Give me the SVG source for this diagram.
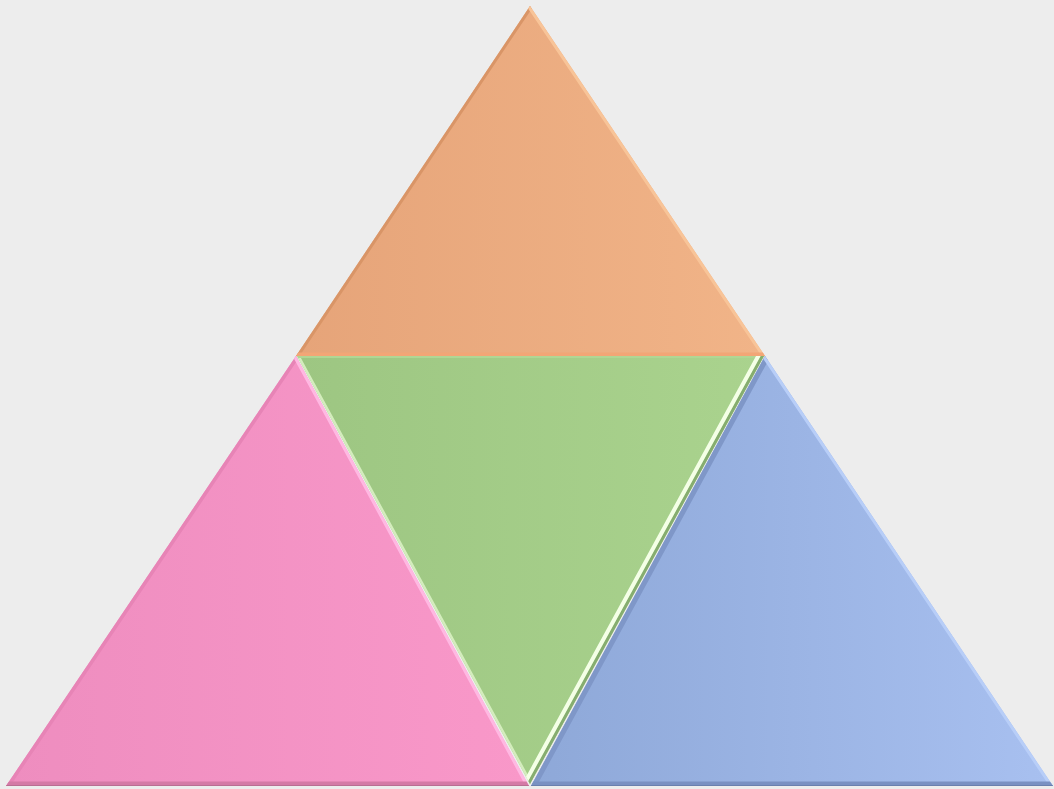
<svg xmlns="http://www.w3.org/2000/svg" width="1054" height="789" viewBox="0 0 1054 789">
<defs>
<linearGradient id="gO" x1="0" y1="0" x2="1" y2="0"><stop offset="0" stop-color="#E6A479"/><stop offset="1" stop-color="#F1B488"/></linearGradient>
<linearGradient id="gP" x1="0" y1="0" x2="1" y2="0"><stop offset="0" stop-color="#EE8DBF"/><stop offset="1" stop-color="#F998C9"/></linearGradient>
<linearGradient id="gG" x1="0" y1="0" x2="1" y2="0"><stop offset="0" stop-color="#9DC682"/><stop offset="1" stop-color="#AAD38E"/></linearGradient>
<linearGradient id="gB" x1="0" y1="0" x2="1" y2="0"><stop offset="0" stop-color="#8EA8D8"/><stop offset="1" stop-color="#A8C0F0"/></linearGradient>
<clipPath id="cO"><path d="M530,6 L765,356 L296,356 Z"/></clipPath>
<clipPath id="cP"><path d="M296,356 L529,786 L6,786 Z"/></clipPath>
<clipPath id="cG"><path d="M297,356 L764,356 L530,784 Z"/></clipPath>
<clipPath id="cB"><path d="M765,356 L1053,786 L531,786 Z"/></clipPath>
</defs>
<style>
.e{fill:none;stroke-linecap:round}
</style>
<rect width="1054" height="789" fill="#EDEDED"/>
<g id="orange">
<path d="M530,6 L765,356 L296,356 Z" fill="url(#gO)"/>
<g clip-path="url(#cO)">
<line class="e" x1="530" y1="6" x2="296" y2="356" stroke="#D99567" stroke-width="6"/>
<line class="e" x1="530" y1="6" x2="765" y2="356" stroke="#F8C498" stroke-width="6"/>
<line class="e" x1="296" y1="356" x2="765" y2="356" stroke="#F2A676" stroke-width="7"/>
</g>
</g>
<g id="pink">
<path d="M296,356 L529,786 L6,786 Z" fill="url(#gP)"/>
<g clip-path="url(#cP)">
<line class="e" x1="296" y1="356" x2="6" y2="786" stroke="#E784B6" stroke-width="7"/>
<line class="e" x1="296" y1="356" x2="529" y2="786" stroke="#FFB8E2" stroke-width="6"/>
<line class="e" x1="6" y1="786" x2="529" y2="786" stroke="#D47AA6" stroke-width="9"/>
<line class="e" x1="6" y1="786" x2="529" y2="786" stroke="#B96E92" stroke-width="2"/>
</g>
</g>
<g id="green">
<path d="M297,356 L764,356 L530,784 Z" fill="url(#gG)"/>
<g clip-path="url(#cG)">
<line class="e" x1="297" y1="356" x2="530" y2="784" stroke="#D4EDBD" stroke-width="5"/>
<line class="e" x1="297" y1="356" x2="764" y2="356" stroke="#B0D694" stroke-width="4"/>
<line class="e" x1="764" y1="356" x2="530" y2="784" stroke="#86AD6F" stroke-width="6"/>
<line class="e" x1="759.6" y1="353.6" x2="525.6" y2="781.6" stroke="#F4FFE6" stroke-width="4"/>
</g>
</g>
<g id="blue">
<path d="M765,356 L1053,786 L531,786 Z" fill="url(#gB)"/>
<g clip-path="url(#cB)">
<line class="e" x1="765" y1="356" x2="531" y2="786" stroke="#7F97C8" stroke-width="10"/>
<line class="e" x1="765" y1="356" x2="1053" y2="786" stroke="#B8CEF8" stroke-width="6"/>
<line class="e" x1="531" y1="786" x2="1053" y2="786" stroke="#7A91C2" stroke-width="9"/>
<line class="e" x1="531" y1="786" x2="1053" y2="786" stroke="#6A80AE" stroke-width="2"/>
</g>
</g>
</svg>
